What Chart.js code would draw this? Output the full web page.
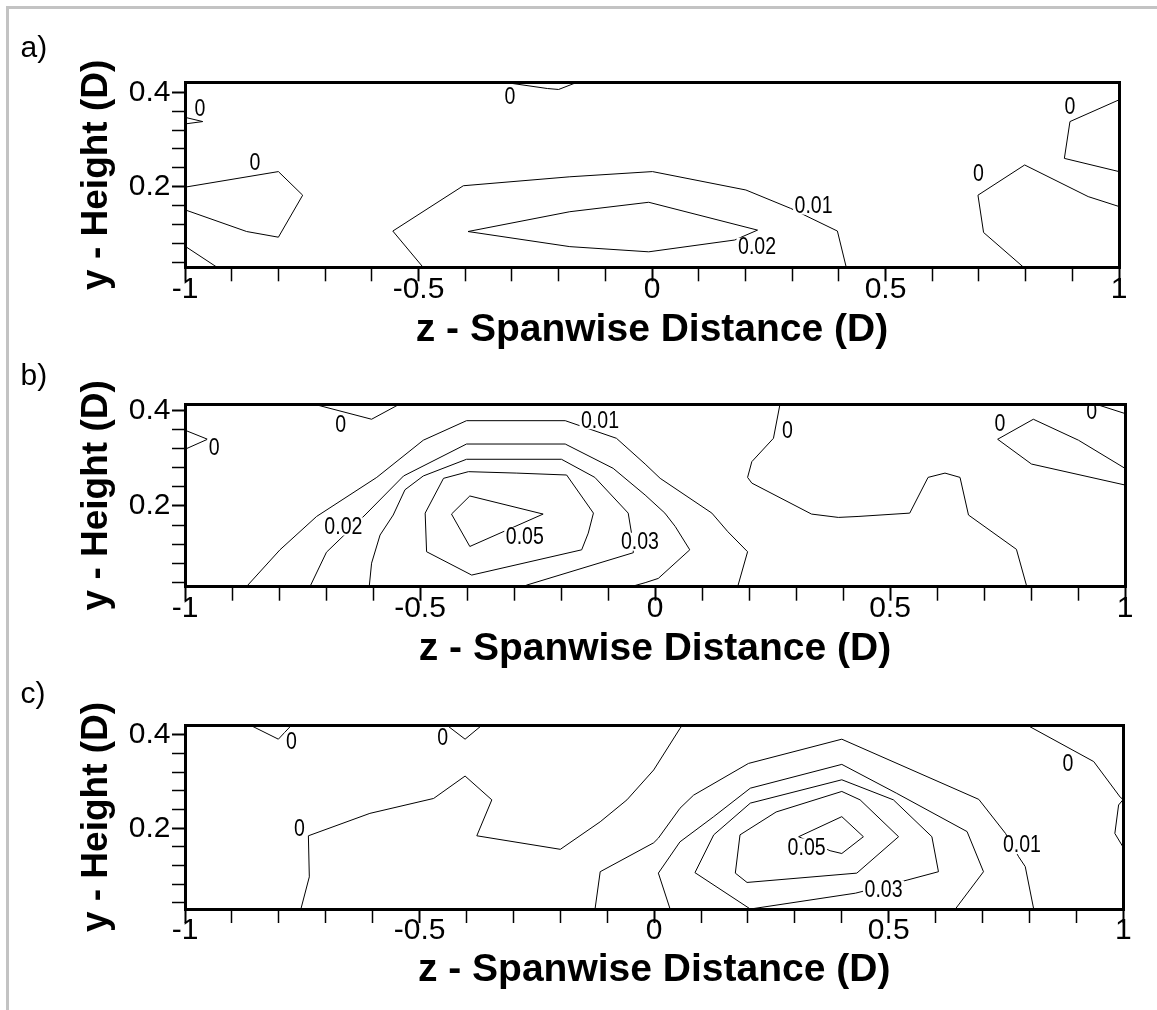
<!DOCTYPE html>
<html><head><meta charset="utf-8">
<script src="https://cdn.jsdelivr.net/npm/chart.js@4.4.0/dist/chart.umd.min.js"></script>
<style>
html,body{margin:0;padding:0;background:#fff;}
body{width:1157px;height:1010px;position:relative;overflow:hidden;font-family:'Liberation Sans',Arial,sans-serif;}
#frame{position:absolute;left:6px;top:6px;width:1160px;height:1010px;border-left:3px solid #c3c3c3;border-top:3px solid #c3c3c3;}
canvas{position:absolute;left:0;}
.pl{position:absolute;left:20.5px;font-size:30px;line-height:30px;color:#000;}
</style></head><body>
<div id="frame"></div>
<canvas id="ca" width="1157" height="340" style="top:20px;width:1157px;height:340px"></canvas>
<canvas id="cb" width="1157" height="320" style="top:360px;width:1157px;height:320px"></canvas>
<canvas id="cc" width="1157" height="330" style="top:680px;width:1157px;height:330px"></canvas>
<div class="pl" style="top:31.6px">a)</div>
<div class="pl" style="top:360px">b)</div>
<div class="pl" style="top:678.3px">c)</div>
<script>
// ---------- axes ----------
const xTicks = [-1,-0.9,-0.8,-0.7,-0.6,-0.5,-0.4,-0.3,-0.2,-0.1,0,0.1,0.2,0.3,0.4,0.5,0.6,0.7,0.8,0.9,1];
const xMajor = [-1,-0.5,0,0.5,1];
const xMajorLabels = ['-1','-0.5','0','0.5','1'];
const yTicks = [0.04,0.08,0.12,0.16,0.2,0.24,0.28,0.32,0.36,0.4];
const yMajor = [0.2,0.4];
const yMajorLabels = ['0.2','0.4'];
const xTitle = 'z - Spanwise Distance (D)';
const yTitle = 'y - Height (D)';
const yRangeA = [0.0292, 0.4212];
const yRangeB = [0.0306, 0.414];
const yRangeC = [0.0271, 0.4214];

// ---------- panel a contours ----------
const aZero1 = [[-1,0.347],[-0.962,0.338],[-1,0.333]];
const aZero2 = [[-1,0.199],[-0.800,0.232],[-0.748,0.182],[-0.800,0.093],[-0.868,0.105],[-1,0.151]];
const aZero3 = [[-1,0.074],[-0.931,0.029]];
const aZero4 = [[-0.315,0.421],[-0.224,0.408],[-0.200,0.406],[-0.161,0.421]];
const aZero5 = [[1,0.384],[0.895,0.338],[0.883,0.260],[1,0.232]];
const aZero6 = [[0.796,0.029],[0.710,0.103],[0.698,0.182],[0.798,0.246],[0.934,0.179],[1,0.158]];
const aLev01 = [[-0.490,0.029],[-0.555,0.106],[-0.404,0.202],[-0.176,0.221],[0.001,0.232],[0.201,0.193],[0.297,0.154],[0.397,0.106],[0.416,0.029]];
const aLev02 = [[-0.394,0.105],[-0.176,0.147],[-0.007,0.167],[0.226,0.108],[0.177,0.087],[-0.007,0.062],[-0.176,0.073],[-0.394,0.105]];
const aLabels = [[-0.968,0.366,'0'],[-0.850,0.250,'0'],[-0.304,0.391,'0'],[0.346,0.160,'0.01'],[0.225,0.073,'0.02'],[0.895,0.369,'0'],[0.699,0.228,'0']];

// ---------- panel b contours ----------
const bZero1 = [[-0.727,0.414],[-0.603,0.382],[-0.543,0.414]];
const bZero2 = [[-1,0.359],[-0.952,0.340],[-1,0.319]];
const bZero3 = [[0.266,0.414],[0.252,0.342],[0.206,0.293],[0.197,0.260],[0.206,0.248],[0.333,0.183],[0.390,0.176],[0.432,0.178],[0.542,0.185],[0.581,0.260],[0.617,0.269],[0.649,0.260],[0.667,0.181],[0.769,0.109],[0.791,0.031]];
const bZero4 = [[1,0.279],[0.901,0.338],[0.805,0.382],[0.729,0.340],[0.801,0.288],[1,0.244]];
const bZero5 = [[0.943,0.412],[1,0.394]];
const bLev01 = [[-0.869,0.031],[-0.798,0.108],[-0.720,0.178],[-0.592,0.260],[-0.493,0.338],[-0.401,0.379],[-0.191,0.379],[-0.082,0.342],[-0.021,0.288],[0.011,0.258],[0.121,0.185],[0.155,0.146],[0.197,0.104],[0.176,0.031]];
const bLev02 = [[-0.734,0.031],[-0.699,0.103],[-0.617,0.181],[-0.535,0.263],[-0.401,0.330],[-0.191,0.330],[-0.089,0.279],[-0.021,0.223],[0.021,0.185],[0.043,0.157],[0.074,0.108],[0.007,0.048],[-0.021,0.039],[-0.050,0.031]];
const bLev03 = [[-0.608,0.031],[-0.603,0.080],[-0.585,0.139],[-0.557,0.181],[-0.532,0.234],[-0.493,0.263],[-0.401,0.298],[-0.199,0.298],[-0.128,0.260],[-0.057,0.185],[-0.050,0.143],[-0.046,0.102],[-0.273,0.034],[-0.277,0.031]];
const bLev04 = [[-0.489,0.185],[-0.486,0.104],[-0.390,0.055],[-0.156,0.108],[-0.142,0.143],[-0.131,0.185],[-0.188,0.265],[-0.294,0.269],[-0.397,0.272],[-0.450,0.258],[-0.489,0.185]];
const bLev05 = [[-0.433,0.183],[-0.394,0.221],[-0.238,0.183],[-0.394,0.115],[-0.433,0.183]];
const bLabels = [[-0.669,0.370,'0'],[-0.938,0.323,'0'],[-0.117,0.380,'0.01'],[-0.663,0.157,'0.02'],[-0.032,0.125,'0.03'],[-0.277,0.136,'0.05'],[0.282,0.359,'0'],[0.734,0.373,'0'],[0.929,0.398,'0']];

// ---------- panel c contours ----------
const cZero1 = [[-0.861,0.421],[-0.801,0.391],[-0.773,0.421]];
const cZero2 = [[-0.442,0.421],[-0.403,0.391],[-0.367,0.421]];
const cZero3 = [[-0.753,0.027],[-0.735,0.096],[-0.737,0.184],[-0.606,0.232],[-0.470,0.264],[-0.403,0.312],[-0.346,0.261],[-0.378,0.184],[-0.200,0.155],[-0.115,0.214],[-0.058,0.261],[-0.001,0.325],[0.055,0.414],[0.060,0.421]];
const cZero4 = [[0.795,0.421],[0.937,0.343],[0.994,0.266],[1,0.262],[0.990,0.250],[0.982,0.189],[1,0.159]];
const cLev01 = [[-0.126,0.027],[-0.115,0.107],[-0.001,0.169],[0.009,0.179],[0.055,0.243],[0.084,0.271],[0.201,0.339],[0.400,0.391],[0.692,0.262],[0.749,0.189],[0.777,0.139],[0.791,0.118],[0.809,0.027]];
const cLev02 = [[0.034,0.027],[0.009,0.104],[0.055,0.171],[0.127,0.225],[0.205,0.286],[0.400,0.337],[0.517,0.275],[0.667,0.193],[0.702,0.107],[0.642,0.027]];
const cLev03 = [[0.205,0.027],[0.087,0.105],[0.127,0.186],[0.205,0.254],[0.400,0.304],[0.510,0.261],[0.592,0.182],[0.606,0.107],[0.539,0.089],[0.429,0.061],[0.205,0.027]];
const cLev04 = [[0.183,0.186],[0.173,0.104],[0.198,0.084],[0.432,0.104],[0.521,0.182],[0.439,0.261],[0.400,0.279],[0.260,0.235],[0.183,0.186]];
const cLev05 = [[0.308,0.182],[0.400,0.225],[0.446,0.182],[0.400,0.146],[0.375,0.152],[0.308,0.182]];
const cLabels = [[-0.773,0.386,'0'],[-0.451,0.395,'0'],[-0.756,0.200,'0'],[0.784,0.164,'0.01'],[0.489,0.069,'0.03'],[0.325,0.159,'0.05'],[0.882,0.339,'0']];

// ---------- build ----------
const FAM = "'Liberation Sans', Arial, Helvetica, sans-serif";
const near = (arr, v) => arr.findIndex(m => Math.abs(m - v) < 1e-6);

const contourLabels = {
  id: 'contourLabels',
  afterDatasetsDraw(chart, args, opts) {
    const {ctx, chartArea: ca, scales: {x, y}} = chart;
    ctx.save();
    ctx.beginPath();
    ctx.rect(ca.left, ca.top, ca.right - ca.left, ca.bottom - ca.top);
    ctx.clip();
    ctx.font = '23px ' + FAM;
    ctx.textAlign = 'center';
    ctx.textBaseline = 'middle';
    const sx = 0.85;
    for (const [vx, vy, t] of opts.items) {
      const px = x.getPixelForValue(vx), py = y.getPixelForValue(vy);
      const w = ctx.measureText(t).width * sx;
      ctx.fillStyle = '#fff';
      ctx.fillRect(px - w / 2 - 1.5, py - 9, w + 3, 18);
      ctx.save();
      ctx.translate(px, py);
      ctx.scale(sx, 1);
      ctx.fillStyle = '#000';
      ctx.fillText(t, 0, 1);
      ctx.restore();
    }
    ctx.restore();
  }
};

function makePanel(id, lines, labels, yRange, g) {
  const datasets = lines.map(pts => ({
    data: pts.map(([x, y]) => ({x, y})),
    showLine: true, borderColor: '#000', borderWidth: 1, pointRadius: 0,
    pointHoverRadius: 0, fill: false, tension: 0
  }));
  const border = {display: true, color: '#000', width: 3, z: 1};
  new Chart(document.getElementById(id), {
    type: 'scatter',
    data: {datasets},
    plugins: [contourLabels],
    options: {
      responsive: false, animation: false, events: [],
      layout: {padding: {top: g.T, right: 1157 - g.R, left: 0, bottom: 0}},
      plugins: {legend: {display: false}, tooltip: {enabled: false}, contourLabels: {items: labels}},
      scales: {
        x: {
          type: 'linear', position: 'bottom', min: -1, max: 1,
          afterBuildTicks: s => { s.ticks = xTicks.map(v => ({value: v})); },
          afterFit: s => { s.height = g.H - g.B; },
          ticks: {
            autoSkip: false, maxRotation: 0, padding: -10, color: '#000',
            font: {family: FAM, size: 30},
            callback: v => { const i = near(xMajor, v); return i >= 0 ? xMajorLabels[i] : ''; }
          },
          grid: {
            drawOnChartArea: false, drawTicks: true, tickLength: 14, tickColor: '#000', lineWidth: 3,
            tickWidth: c => (c.tick && near(xMajor, c.tick.value) >= 0) ? 2 : 1.5
          },
          border,
          title: {display: true, text: xTitle, color: '#000', font: {family: FAM, size: 39, weight: 'bold'}, padding: {top: 0, bottom: g.tpb}}
        },
        y: {
          type: 'linear', position: 'left', min: yRange[0], max: yRange[1],
          afterBuildTicks: s => { s.ticks = yTicks.map(v => ({value: v})); },
          afterFit: s => { s.width = 185; },
          ticks: {
            autoSkip: false, padding: 1.5, color: '#000',
            font: {family: FAM, size: 30},
            callback: v => { const i = near(yMajor, v); return i >= 0 ? yMajorLabels[i] : ''; }
          },
          grid: {
            drawOnChartArea: false, drawTicks: true, tickLength: 13, tickColor: '#000', lineWidth: 3,
            tickWidth: c => (c.tick && near(yMajor, c.tick.value) >= 0) ? 2 : 1.5
          },
          border,
          title: {display: true, text: yTitle, color: '#000', font: {family: FAM, size: 37, weight: 'bold'}, padding: {top: 74.8, bottom: 0}}
        },
        x2: {
          type: 'linear', position: 'top', min: -1, max: 1,
          afterFit: s => { s.height = 0; },
          ticks: {display: false},
          grid: {drawOnChartArea: false, drawTicks: false, lineWidth: 3},
          border
        },
        y2: {
          type: 'linear', position: 'right', min: yRange[0], max: yRange[1],
          afterFit: s => { s.width = 0; },
          ticks: {display: false},
          grid: {drawOnChartArea: false, drawTicks: false, lineWidth: 3},
          border
        }
      }
    }
  });
}

makePanel('ca', [aZero1, aZero2, aZero3, aZero4, aZero5, aZero6, aLev01, aLev02], aLabels, yRangeA,
  {H: 340, T: 62.3, B: 247.3, R: 1119, tpb: 6.8});
makePanel('cb', [bZero1, bZero2, bZero3, bZero4, bZero5, bLev01, bLev02, bLev03, bLev04, bLev05], bLabels, yRangeB,
  {H: 320, T: 44, B: 226.7, R: 1125, tpb: 7.4});
makePanel('cc', [cZero1, cZero2, cZero3, cZero4, cLev01, cLev02, cLev03, cLev04, cLev05], cLabels, yRangeC,
  {H: 330, T: 45, B: 229, R: 1123.3, tpb: 16.6});
</script>
</body></html>
